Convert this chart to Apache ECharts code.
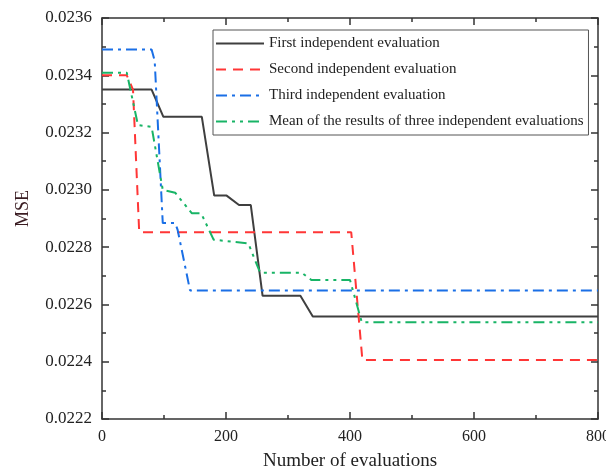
<!DOCTYPE html>
<html>
<head>
<meta charset="utf-8">
<script src="https://cdn.jsdelivr.net/npm/echarts@6/dist/echarts.min.js"></script>
<style>html,body{margin:0;padding:0;background:#fff}#c{width:606px;height:469px}</style>
</head>
<body>
<div id="c"></div>
<script>
var seriesNames = ['First independent evaluation','Second independent evaluation','Third independent evaluation','Mean of the results of three independent evaluations'];
var firstX = [0, 80, 99, 161, 181, 201, 221, 240, 259, 320, 340, 800];
var firstY = [0.02335, 0.02335, 0.023255, 0.023255, 0.02298, 0.02298, 0.022947, 0.022947, 0.02263, 0.02263, 0.022558, 0.022558];
var secondX = [0, 40, 50, 60, 402, 420, 800];
var secondY = [0.02340, 0.02340, 0.02335, 0.022852, 0.022852, 0.022406, 0.022406];
var thirdX = [0, 80, 85, 98, 118, 122, 142, 800];
var thirdY = [0.02349, 0.02349, 0.02345, 0.022884, 0.022884, 0.02286, 0.022649, 0.022649];
var meanX = [0, 40, 58, 80, 98, 118, 145, 160, 180, 236, 255, 322, 338, 400, 419, 800];
var meanY = [0.023409, 0.023409, 0.023226, 0.02322, 0.0230, 0.02299, 0.022918, 0.022918, 0.022826, 0.022813, 0.022711, 0.022711, 0.022685, 0.022685, 0.022538, 0.022538];
var xTicks = [0, 200, 400, 600, 800];
var yTicks = [0.0222, 0.0224, 0.0226, 0.0228, 0.0230, 0.0232, 0.0234, 0.0236];

function zip(xs, ys){ return xs.map(function(x,i){ return [x, ys[i]]; }); }

var font = '"Liberation Serif","Times New Roman",serif';
var axisCol = '#333';
var chart = echarts.init(document.getElementById('c'), null, {renderer:'canvas'});
var common = {
  axisLine:{show:true, onZero:false, lineStyle:{color:axisCol, width:1.5}},
  splitLine:{show:false}
};
chart.setOption({
  animation:false,
  backgroundColor:'#fff',
  textStyle:{fontFamily:font},
  grid:{left:102, right:8, top:18, bottom:50, containLabel:false, outerBoundsMode:'none'},
  legend:{
    orient:'vertical', left:213, top:30,
    padding:[6,5,6,2], itemGap:11, itemWidth:48, itemHeight:15,
    borderColor:'#555', borderWidth:1,
    itemStyle:{opacity:0},
    textStyle:{fontFamily:font, fontSize:15, color:'#222'},
    data:seriesNames
  },
  xAxis:[
    Object.assign({}, common, {
      type:'value', min:xTicks[0], max:xTicks[xTicks.length-1], interval:200,
      name:'Number of evaluations', nameLocation:'middle', nameGap:33,
      nameTextStyle:{fontFamily:font, fontSize:19, color:'#222'},
      axisTick:{show:true, inside:true, length:7, lineStyle:{color:axisCol, width:1.5}},
      minorTick:{show:true, splitNumber:2, length:4, lineStyle:{color:axisCol, width:1.5}},
      axisLabel:{fontFamily:font, fontSize:16, color:'#222', margin:10}
    }),
    Object.assign({}, common, {
      type:'value', position:'top', min:0, max:800, interval:200,
      axisTick:{show:true, inside:true, length:7, lineStyle:{color:axisCol, width:1.5}},
      minorTick:{show:true, splitNumber:2, length:4, lineStyle:{color:axisCol, width:1.5}},
      axisLabel:{show:false}
    })
  ],
  yAxis:[
    Object.assign({}, common, {
      type:'value', min:yTicks[0], max:yTicks[yTicks.length-1], interval:0.0002,
      name:'MSE', nameLocation:'middle', nameGap:70, nameRotate:90,
      nameTextStyle:{fontFamily:font, fontSize:18, color:'#3a1c22', padding:[0,0,0,20]},
      axisTick:{show:true, inside:true, length:7, lineStyle:{color:axisCol, width:1.5}},
      minorTick:{show:true, splitNumber:2, length:4, lineStyle:{color:axisCol, width:1.5}},
      axisLabel:{fontFamily:font, fontSize:17, color:'#222', margin:10,
        formatter:function(v){ return v.toFixed(4); }}
    }),
    Object.assign({}, common, {
      type:'value', position:'right', min:0.0222, max:0.0236, interval:0.0002,
      axisTick:{show:true, inside:true, length:7, lineStyle:{color:axisCol, width:1.5}},
      minorTick:{show:true, splitNumber:2, length:4, lineStyle:{color:axisCol, width:1.5}},
      axisLabel:{show:false}
    })
  ],
  series:[
    {name:seriesNames[0], type:'line', data:zip(firstX, firstY), symbol:'none', color:'#3f3f3f',
     lineStyle:{color:'#3f3f3f', width:2, type:'solid'}, z:3},
    {name:seriesNames[1], type:'line', data:zip(secondX, secondY), symbol:'none', color:'#ff3636',
     lineStyle:{color:'#ff3636', width:2, type:[10,7]}},
    {name:seriesNames[2], type:'line', data:zip(thirdX, thirdY), symbol:'none', color:'#1a6fe6',
     lineStyle:{color:'#1a6fe6', width:2, type:[11,5,3,5]}},
    {name:seriesNames[3], type:'line', data:zip(meanX, meanY), symbol:'none', color:'#18b466',
     lineStyle:{color:'#18b466', width:2, type:[11,5,3,5,3,5]}}
  ]
});
</script>
</body>
</html>
